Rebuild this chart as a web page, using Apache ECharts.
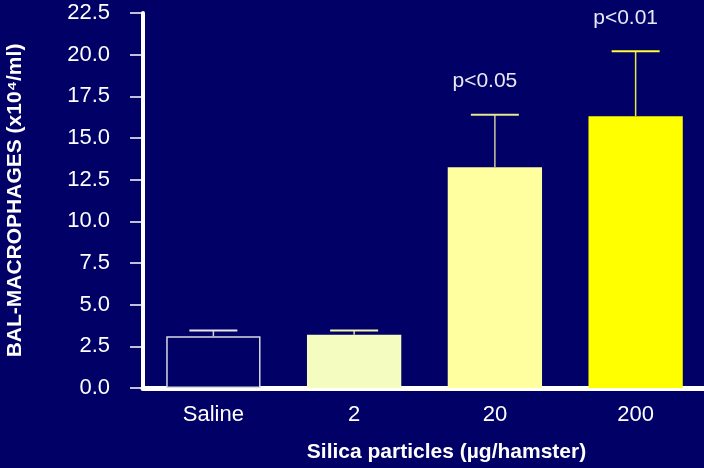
<!DOCTYPE html>
<html><head><meta charset="utf-8">
<script src="https://cdn.jsdelivr.net/npm/echarts@6/dist/echarts.min.js"></script>
<style>html,body{margin:0;padding:0;background:#000066;overflow:hidden;}#c{width:704px;height:468px;}</style>
</head><body><div id="c"></div>
<script>
const categories = ['Saline', '2', '20', '200'];
const means = [3.1, 3.2, 13.25, 16.3];
const errorTops = [3.45, 3.45, 16.4, 20.2];
const pLabels = ['', '', 'p<0.05', 'p<0.01'];
const yTicks = [0, 2.5, 5, 7.5, 10, 12.5, 15, 17.5, 20, 22.5];

const barColors = ['#000066', '#f5fcbf', '#ffffa0', '#ffff00'];
const barBorders = ['#d8d8e0', '#f5fcbf', '#ffffa0', '#ffff00'];
const errColors = ['#e6e6ee', '#f0f4b0', '#e8e890', '#ffff33'];
const stemColors = ['#d0d0d8', '#d8dca0', '#c8c8a0', '#e8e840'];

const chart = echarts.init(document.getElementById('c'), null, {renderer: 'canvas'});
const font = "'Liberation Sans', Arial, sans-serif";
chart.setOption({
  backgroundColor: '#000066',
  animation: false,
  grid: {left: 143, top: 13, width: 563, height: 375, containLabel: false, outerBoundsMode: 'none'},
  xAxis: {
    type: 'category', data: categories,
    axisLine: {lineStyle: {color: '#ffffff', width: 5}},
    axisTick: {show: false},
    axisLabel: {color: '#ffffff', fontSize: 22, fontFamily: font, margin: 16},
    name: 'Silica particles (µg/hamster)', nameLocation: 'middle', nameGap: 54,
    nameTextStyle: {color: '#ffffff', fontSize: 21, fontWeight: 'bold', fontFamily: font, padding: [0, 0, 0, 44], verticalAlign: 'top'}
  },
  yAxis: {
    type: 'value', min: 0, max: 22.5, interval: 2.5,
    splitLine: {show: false},
    axisLine: {show: true, lineStyle: {color: '#ffffff', width: 4}},
    axisTick: {show: true, length: 13, lineStyle: {color: '#ffffff', width: 1.5}},
    axisLabel: {color: '#ffffff', fontSize: 22, fontFamily: font, margin: 33,
      formatter: v => v.toFixed(1)},
    name: 'BAL-MACROPHAGES (x10⁴/ml)', nameLocation: 'middle', nameGap: 128, nameRotate: 90,
    nameTextStyle: {color: '#ffffff', fontSize: 21, fontWeight: 'bold', fontFamily: font, verticalAlign: 'middle'}
  },
  series: [
    {
      type: 'bar', barCategoryGap: '33%',
      data: means.map((v, i) => ({value: v, itemStyle: {color: barColors[i], borderColor: barBorders[i], borderWidth: i === 0 ? 1.5 : 0}})),
      z: 2
    },
    {
      type: 'custom', z: 3,
      data: errorTops.map((t, i) => [i, means[i], t]),
      renderItem: function (params, api) {
        const i = api.value(0);
        const base = api.coord([i, api.value(1)]);
        const top = api.coord([i, api.value(2)]);
        const half = 24;
        const children = [
          {type: 'line', shape: {x1: base[0], y1: base[1], x2: top[0], y2: top[1]}, style: {stroke: stemColors[i], lineWidth: 1.5}},
          {type: 'line', shape: {x1: top[0] - half, y1: top[1], x2: top[0] + half, y2: top[1]}, style: {stroke: errColors[i], lineWidth: 2}}
        ];
        if (pLabels[i]) {
          children.push({type: 'text', style: {text: pLabels[i], x: top[0] - 10, y: top[1] - 33, fill: '#e8e8f4', fontSize: 21, fontFamily: font, align: 'center', verticalAlign: 'middle'}});
        }
        return {type: 'group', children: children};
      }
    }
  ]
});
</script></body></html>
